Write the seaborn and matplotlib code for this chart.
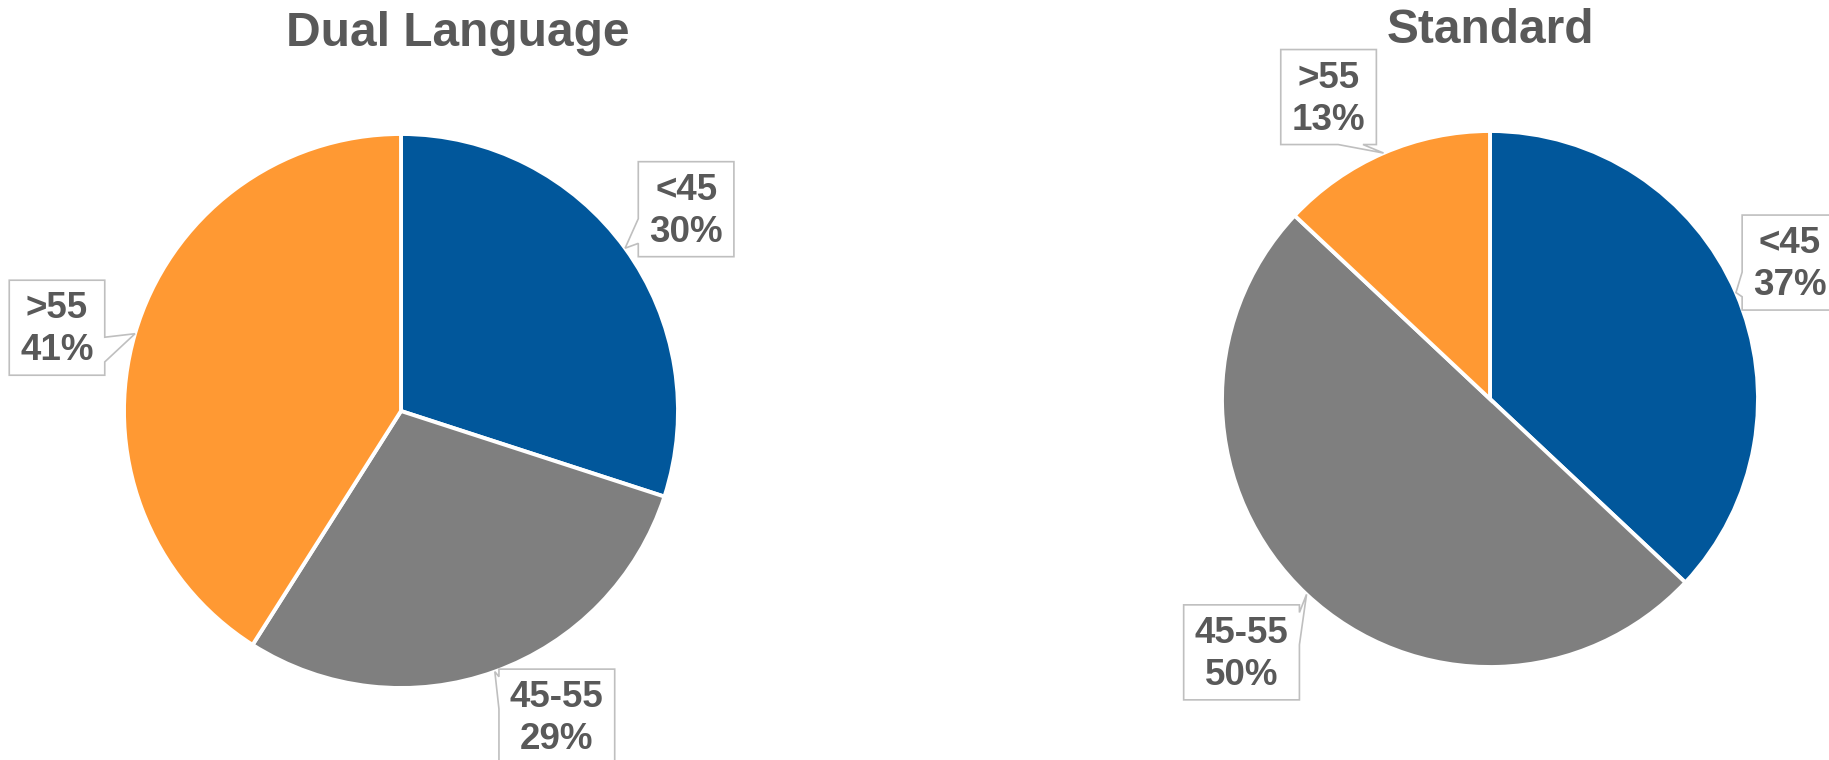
import matplotlib
matplotlib.use("Agg")
import matplotlib.pyplot as plt
from matplotlib.patches import Polygon
import numpy as np
import seaborn as sns

# Age-band shares per program type
categories = ["<45", "45-55", ">55"]
dual_values = [30, 29, 41]
standard_values = [37, 50, 13]
chart_titles = ["Dual Language", "Standard"]

W, H = 1829, 760

sns.set_theme(style="white")
plt.rcParams["font.family"] = ["Liberation Sans", "DejaVu Sans"]

palette = sns.color_palette(["#01579B", "#7F7F7F", "#FF9933"])
TEXT = "#595959"
BORDER = "#BFBFBF"

# Layout in pixel units (origin top-left): pie centre/radius, title anchor,
# and for each slice label the box-centre offset from the pointer tip plus
# the box side the pointer leaves from.
layouts = [
    dict(center=(401, 411), radius=277, title=(458, 46),
         labels=[(61, -39, "left"), (62, 45, "left"), (-78, -6, "right")]),
    dict(center=(1490, 399), radius=268, title=(1490, 43),
         labels=[(54, -30, "left"), (-65, 58, "right"), (-55, -56, "bottom")]),
]

BOX_H = 95
PAD_X = 11


def px_to_fig(x, y):
    return x / W, 1 - y / H


def callout_vertices(x0, y0, x1, y1, tip, side):
    tx, ty = tip
    if side in ("left", "right"):
        start, end, proj = y0, y1, ty
    else:
        start, end, proj = x0, x1, tx
    span = end - start
    # pointer base sits in the half of the side nearer the tip
    if proj < (start + end) / 2:
        b0, b1 = start + 0.08 * span, start + 0.42 * span
    else:
        b0, b1 = start + 0.60 * span, start + 0.86 * span
    pts = [(x0, y0)]
    if side == "top":
        pts += [(b0, y0), (tx, ty), (b1, y0)]
    pts.append((x1, y0))
    if side == "right":
        pts += [(x1, b0), (tx, ty), (x1, b1)]
    pts.append((x1, y1))
    if side == "bottom":
        pts += [(b1, y1), (tx, ty), (b0, y1)]
    pts.append((x0, y1))
    if side == "left":
        pts += [(x0, b1), (tx, ty), (x0, b0)]
    return [px_to_fig(x, y) for x, y in pts]


fig = plt.figure(figsize=(W / 100, H / 100), dpi=100)
fig.patch.set_facecolor("white")
renderer = fig.canvas.get_renderer()

for values, title, lay in zip([dual_values, standard_values], chart_titles, layouts):
    cx, cy = lay["center"]
    r = lay["radius"]
    ax = fig.add_axes([(cx - r) / W, 1 - (cy + r) / H, 2 * r / W, 2 * r / H])
    wedges, _ = ax.pie(values, colors=palette, startangle=90, counterclock=False,
                       wedgeprops=dict(edgecolor="white", linewidth=2.8))
    ax.set_xlim(-1, 1)
    ax.set_ylim(-1, 1)
    ax.set_aspect("equal")
    ax.axis("off")

    tx_, ty_ = px_to_fig(*lay["title"])
    fig.text(tx_, ty_, title, ha="center", va="baseline", fontsize=34.5,
             fontweight="bold", color=TEXT)

    for wedge, cat, val, (dx, dy, side) in zip(wedges, categories, values, lay["labels"]):
        mid = np.deg2rad((wedge.theta1 + wedge.theta2) / 2)
        dxp, dyp = ax.transData.transform((np.cos(mid), np.sin(mid)))
        tip = (dxp, H - dyp)
        bx, by = tip[0] + dx, tip[1] + dy
        fx, fy = px_to_fig(bx, by + 2)
        t = fig.text(fx, fy, f"{cat}\n{val}%", ha="center", va="center",
                     multialignment="center", fontsize=26.5, fontweight="bold",
                     color=TEXT, linespacing=1.26, zorder=4)
        bb = t.get_window_extent(renderer)
        half_w = bb.width / 2 + PAD_X
        x0, x1 = bx - half_w, bx + half_w
        y0, y1 = by - BOX_H / 2, by + BOX_H / 2
        poly = Polygon(callout_vertices(x0, y0, x1, y1, tip, side), closed=True,
                       transform=fig.transFigure, facecolor="white",
                       edgecolor=BORDER, linewidth=1.2, joinstyle="miter", zorder=3)
        fig.add_artist(poly)

fig.savefig("out.png", dpi=100, facecolor="white")
